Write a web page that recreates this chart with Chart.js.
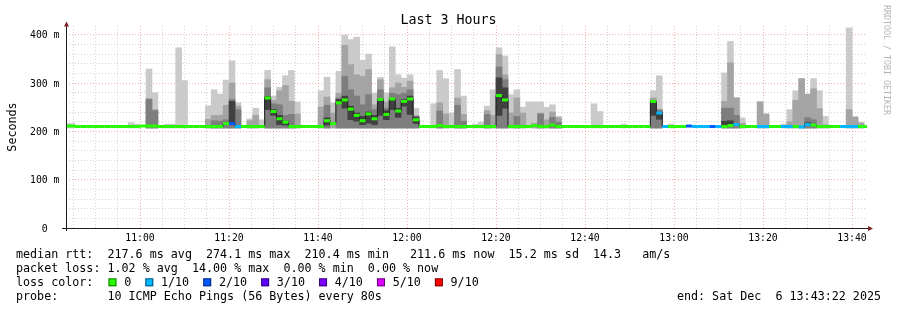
<!DOCTYPE html>
<html>
<head>
<meta charset="utf-8">
<title>Last 3 Hours</title>
<script src="https://cdn.jsdelivr.net/npm/chart.js@4.4.1/dist/chart.umd.min.js"></script>
<style>
  html, body { margin: 0; padding: 0; background: #fff; }
  canvas { display: block; }
</style>
</head>
<body>
<canvas id="smoke" width="897" height="310"></canvas>
<script>
'use strict';

// time axis, minutes since midnight
const endTime = 13 * 60 + 43 + 22 / 60;      // 13:43:22
const spanMinutes = 180;
const stepMinutes = 80 / 60;                 // one probe every 80s
const sampleStart = 10 * 60 + 42 + 41 / 60;  // first step boundary 10:42:41

const timeTicks = [660, 680, 700, 720, 740, 760, 780, 800, 820];
const timeLabels = ['11:00', '11:20', '11:40', '12:00', '12:20', '12:40', '13:00', '13:20', '13:40'];
const rttTicks = [0, 100, 200, 300, 400];
const rttLabels = ['0', '100 m', '200 m', '300 m', '400 m'];

// median rtt per step (ms)
const median = [
  211, 211, 210, 210, 210, 210, 210, 210, 210, 210,
  210, 210, 210, 211, 211, 211, 210, 210, 210, 210,
  210, 210, 210, 210, 210, 210, 210, 216, 216, 210,
  210, 210, 210, 210, 269, 241, 226, 219, 210, 210,
  210, 210, 210, 210, 222, 216, 259, 265, 246, 233,
  222, 236, 226, 266, 235, 267, 242, 262, 267, 224,
  210, 210, 210, 212, 210, 210, 210, 210, 210, 210,
  210, 210, 210, 274, 265, 210, 210, 210, 210, 212,
  210, 210, 213, 210, 210, 210, 210, 210, 210, 210,
  210, 210, 210, 210, 210, 210, 210, 210, 210, 262,
  238, 210, 210, 210, 210, 211, 210, 210, 210, 210,
  210, 210, 212, 214, 210, 210, 210, 210, 210, 210,
  210, 210, 210, 210, 209, 214, 213, 210, 210, 210,
  210, 210, 210, 210, 210, 210
];

// loss per step, index into lossColors
const loss = [
  0, 0, 0, 0, 0, 0, 0, 0, 0, 0,
  0, 0, 0, 0, 0, 0, 0, 0, 0, 0,
  0, 0, 0, 0, 0, 0, 0, 0, 2, 1,
  0, 0, 0, 0, 0, 0, 0, 0, 0, 0,
  0, 0, 0, 0, 0, 0, 0, 0, 0, 0,
  0, 0, 0, 0, 0, 0, 0, 0, 0, 0,
  0, 0, 0, 0, 0, 0, 0, 0, 0, 0,
  0, 0, 0, 0, 0, 0, 0, 0, 0, 0,
  0, 0, 0, 0, 0, 0, 0, 0, 0, 0,
  0, 0, 0, 0, 0, 0, 0, 0, 0, 0,
  1, 1, 0, 0, 0, 2, 1, 1, 1, 2,
  1, 0, 0, 1, 0, 0, 0, 1, 1, 0,
  0, 1, 1, 0, 1, 1, 0, 0, 0, 0,
  0, 1, 1, 1, 0, 0
];

// smoke: bottom of all bands and the tops of the light, mid and dark bands
const smokeFloor = 207;
const smokeMax = [
  216, 216, null, null, null, null, null, null, null, null,
  null, 218, 215, null, 329, 280, null, 215, 215, 373,
  305, null, null, null, 253, 286, 277, 306, 346, 259,
  null, 226, 248, 224, 326, 273, 291, 315, 326, 261,
  null, null, null, 284, 312, 259, 324, 399, 390, 395,
  347, 360, 279, 312, 279, 375, 317, 310, 317, 248,
  null, null, 257, 326, 309, 238, 328, 273, null, 215,
  219, 252, 286, 373, 356, 276, 286, 250, 261, 261,
  261, 250, 255, 231, null, null, null, null, null, 257,
  241, null, null, null, 215, null, null, null, null, 284,
  315, null, 215, null, null, null, null, null, null, null,
  null, 321, 386, 270, 228, null, null, 261, 236, null,
  null, 215, 245, 284, 309, 277, 309, 284, 231, null,
  null, null, 414, 231, 219, null
];
const smokeHigh = [
  null, null, null, null, null, null, null, null, null, null,
  null, null, null, null, 268, 245, null, null, null, null,
  null, null, null, null, 225, 233, 233, 254, 300, 252,
  null, 222, 233, null, 307, 264, 284, 295, 262, 236,
  null, null, null, 250, 271, 238, 279, 378, 338, 317,
  314, 328, 255, 307, 261, 290, 300, 291, 304, 233,
  null, null, null, 259, 236, null, 269, 235, null, null,
  null, 243, 233, 359, 317, 238, 269, 238, null, 217,
  238, 224, 240, 228, null, null, null, null, null, null,
  null, null, null, null, null, null, null, null, null, 269,
  246, null, null, null, null, null, null, null, null, null,
  null, 262, 342, 269, 217, null, null, 261, 236, null,
  null, null, 220, 264, 309, 277, 288, 247, 214, null,
  null, null, 245, 229, 217, null
];
const smokeMid = [
  null, null, null, null, null, null, null, null, null, null,
  null, null, null, null, 266, 243, null, null, null, null,
  null, null, null, null, null, 222, 221, 224, 266, 245,
  null, null, null, null, 290, 257, 255, 233, 235, null,
  null, null, null, null, 254, null, 269, 314, 286, 273,
  255, 276, 245, 286, 248, 279, 276, 279, 286, 229,
  null, null, null, 242, null, null, 254, 221, null, null,
  null, 235, null, 333, 307, null, 231, null, null, null,
  236, null, 229, 219, null, null, null, null, null, null,
  null, null, null, null, null, null, null, null, null, 264,
  244, null, null, null, null, null, null, null, null, null,
  null, 248, 248, 233, null, null, null, null, null, null,
  null, null, null, null, null, 228, 224, null, null, null,
  null, null, null, null, null, null
];
// darkest core band around the median
const coreLow = [
  null, null, null, null, null, null, null, null, null, null,
  null, null, null, null, null, null, null, null, null, null,
  null, null, null, null, null, null, null, null, 214, null,
  null, null, null, null, 245, 233, 214, 213, null, null,
  null, null, null, null, 213, null, 257, 248, 224, 221,
  214, 217, 214, 233, 224, 245, 229, 252, 235, 216,
  null, null, null, null, null, null, null, null, null, null,
  null, null, null, 233, 248, null, null, null, null, null,
  null, null, null, null, null, null, null, null, null, null,
  null, null, null, null, null, null, null, null, null, 233,
  225, null, null, null, null, null, null, null, null, null,
  null, 213, 213, null, null, null, null, null, null, null,
  null, null, null, null, null, 212, null, null, null, null,
  null, null, null, null, null, null
];
const coreHigh = [
  null, null, null, null, null, null, null, null, null, null,
  null, null, null, null, null, null, null, null, null, null,
  null, null, null, null, null, null, null, null, 262, null,
  null, null, null, null, 272, 245, 233, 221, null, null,
  null, null, null, null, 228, null, 266, 273, 252, 238,
  231, 240, 233, 268, 243, 268, 248, 266, 273, 230,
  null, null, null, null, null, null, null, null, null, null,
  null, null, null, 311, 290, null, null, null, null, null,
  null, null, null, null, null, null, null, null, null, null,
  null, null, null, null, null, null, null, null, null, 259,
  240, null, null, null, null, null, null, null, null, null,
  null, 221, 222, null, null, null, null, null, null, null,
  null, null, null, null, null, 218, null, null, null, null,
  null, null, null, null, null, null
];

const lossLabels = ['0', '1/10', '2/10', '3/10', '4/10', '5/10', '9/10'];
const lossColors = ['#26ff00', '#00b8ff', '#0059ff', '#5e00ff', '#7e00ff', '#dd00ff', '#ff0000'];

const legendRows = [
  'median rtt:  217.6 ms avg  274.1 ms max  210.4 ms min   211.6 ms now  15.2 ms sd  14.3   am/s',
  'packet loss: 1.02 % avg  14.00 % max  0.00 % min  0.00 % now',
  'loss color:',
  'probe:       10 ICMP Echo Pings (56 Bytes) every 80s'
];
const endLabel = 'end: Sat Dec  6 13:43:22 2025';
const title = 'Last 3 Hours';
const yTitle = 'Seconds';
const watermark = 'RRDTOOL / TOBI OETIKER';

const mono = "'DejaVu Sans Mono', monospace";
const minorGrid = 'rgba(143, 143, 143, 0.38)';
const majorGrid = 'rgba(222, 79, 79, 0.45)';
const axisColor = '#1f1f1f';
const arrowColor = '#801f1f';

const stepStart = (i) => sampleStart + i * stepMinutes;

function bandData(low, high) {
  return median.map((_, i) => {
    const lo = Array.isArray(low) ? low[i] : low;
    const hi = high[i];
    return { x: stepStart(i) + stepMinutes / 2, y: hi == null || lo == null ? null : [lo, hi] };
  });
}

// loss coloured median ticks: one horizontal piece per step, broken by nulls
const lossLine = [];
median.forEach((m, i) => {
  lossLine.push({ x: stepStart(i), y: m }, { x: stepStart(i + 1), y: m }, { x: stepStart(i + 1), y: null });
});

const medianLine = median.map((m, i) => ({ x: stepStart(i), y: m }));
medianLine.push({ x: stepStart(median.length), y: median[median.length - 1] });

function smokeBand(data, color, order) {
  return {
    type: 'bar',
    data,
    backgroundColor: color,
    borderWidth: 0,
    grouped: false,
    barPercentage: 1,
    categoryPercentage: 1,
    clip: 0,
    order,
  };
}

const rrdDecor = {
  id: 'rrdDecor',
  afterDraw(chart) {
    const { ctx, chartArea: area, scales: { x, y } } = chart;
    ctx.save();

    // axes and arrows
    ctx.strokeStyle = axisColor;
    ctx.lineWidth = 1;
    ctx.beginPath();
    ctx.moveTo(area.left - 4, area.bottom + 0.5);
    ctx.lineTo(area.right + 1, area.bottom + 0.5);
    ctx.moveTo(area.left + 0.5, area.bottom + 3);
    ctx.lineTo(area.left + 0.5, area.top);
    ctx.stroke();

    ctx.fillStyle = arrowColor;
    ctx.beginPath();
    ctx.moveTo(area.left - 2, area.top + 0.5);
    ctx.lineTo(area.left + 3, area.top + 0.5);
    ctx.lineTo(area.left + 0.5, area.top - 4.5);
    ctx.closePath();
    ctx.fill();
    ctx.beginPath();
    ctx.moveTo(area.right + 1, area.bottom - 2);
    ctx.lineTo(area.right + 1, area.bottom + 3);
    ctx.lineTo(area.right + 6, area.bottom + 0.5);
    ctx.closePath();
    ctx.fill();

    ctx.fillStyle = '#000';

    // tick labels
    ctx.font = '9.75px ' + mono;
    ctx.textAlign = 'center';
    ctx.textBaseline = 'alphabetic';
    rttTicks.forEach((v, i) => {
      ctx.fillText(rttLabels[i], 44.7, y.getPixelForValue(v) + 3.5);
    });
    timeTicks.forEach((t, i) => {
      ctx.fillText(timeLabels[i], x.getPixelForValue(t), area.bottom + 12.5);
    });

    // title
    ctx.font = '13.3px ' + mono;
    ctx.fillText(title, chart.width / 2, 23.5);

    // vertical axis title
    ctx.font = '11.7px ' + mono;
    ctx.save();
    ctx.translate(15.5, (area.top + area.bottom) / 2);
    ctx.rotate(-Math.PI / 2);
    ctx.fillText(yTitle, 0, 0);
    ctx.restore();

    // watermark
    ctx.save();
    ctx.font = '8.3px ' + mono;
    ctx.fillStyle = '#b4b4b4';
    ctx.textAlign = 'left';
    ctx.translate(883.5, 5);
    ctx.rotate(Math.PI / 2);
    ctx.fillText(watermark, 0, 0);
    ctx.restore();

    // legend block
    ctx.font = '11.7px ' + mono;
    ctx.textAlign = 'left';
    const left = 16;
    const rowY = [258.3, 272.3, 286.3, 300.3];
    legendRows.forEach((row, i) => ctx.fillText(row, left, rowY[i]));

    const charW = ctx.measureText('0').width;
    let bx = left + 13 * charW + 1;
    lossLabels.forEach((label, i) => {
      ctx.fillStyle = lossColors[i];
      ctx.fillRect(bx, rowY[2] - 8, 8, 8);
      ctx.strokeStyle = 'rgba(0, 0, 0, 0.55)';
      ctx.strokeRect(bx + 0.5, rowY[2] - 7.5, 7, 7);
      ctx.fillStyle = '#000';
      const tx = bx + 15.7;
      ctx.fillText(label, tx, rowY[2]);
      bx = tx + ctx.measureText(label + '  ').width;
    });

    ctx.textAlign = 'right';
    ctx.fillText(endLabel, 881, rowY[3]);

    ctx.restore();
  },
};

new Chart(document.getElementById('smoke'), {
  type: 'bar',
  data: {
    datasets: [
      {
        type: 'line',
        data: lossLine,
        borderWidth: 3,
        borderColor: lossColors[0],
        borderCapStyle: 'butt',
        segment: { borderColor: (ctx) => lossColors[loss[Math.floor(ctx.p0DataIndex / 3)]] },
        pointRadius: 0,
        spanGaps: false,
        order: 0,
      },
      {
        type: 'line',
        data: medianLine,
        stepped: true,
        borderWidth: 1,
        borderColor: '#202020',
        pointRadius: 0,
        order: 1,
      },
      smokeBand(bandData(coreLow, coreHigh), '#404040', 2),
      smokeBand(bandData(smokeFloor, smokeMid), '#7e7e7e', 3),
      smokeBand(bandData(smokeFloor, smokeHigh), '#a4a4a4', 4),
      smokeBand(bandData(smokeFloor, smokeMax), '#cacaca', 5),
    ],
  },
  options: {
    responsive: false,
    animation: false,
    devicePixelRatio: 1,
    layout: { padding: { top: 26, right: 30, left: 0, bottom: 0 } },
    plugins: { legend: { display: false }, tooltip: { enabled: false } },
    scales: {
      x: {
        type: 'linear',
        min: endTime - spanMinutes,
        max: endTime,
        offset: false,
        z: 1,
        grid: {
          offset: false,
          drawTicks: false,
          color: (ctx) => (ctx.tick && ctx.tick.value % 20 === 0 ? majorGrid : minorGrid),
        },
        border: { display: false, dash: [1, 2] },
        ticks: { display: false },
        afterBuildTicks: (scale) => {
          const ticks = [];
          for (let t = Math.ceil(scale.min / 5) * 5; t <= scale.max; t += 5) ticks.push({ value: t });
          scale.ticks = ticks;
        },
        afterFit: (scale) => { scale.height = 82; },
      },
      y: {
        min: 0,
        max: 418,
        z: 1,
        grid: {
          drawTicks: false,
          color: (ctx) => (ctx.tick && ctx.tick.value % 100 === 0 ? majorGrid : minorGrid),
        },
        border: { display: false, dash: [1, 2] },
        ticks: { display: false },
        afterBuildTicks: (scale) => {
          const ticks = [];
          for (let v = 20; v <= 400; v += 20) ticks.push({ value: v });
          scale.ticks = ticks;
        },
        afterFit: (scale) => { scale.width = 66; },
      },
    },
  },
  plugins: [rrdDecor],
});
</script>
</body>
</html>
